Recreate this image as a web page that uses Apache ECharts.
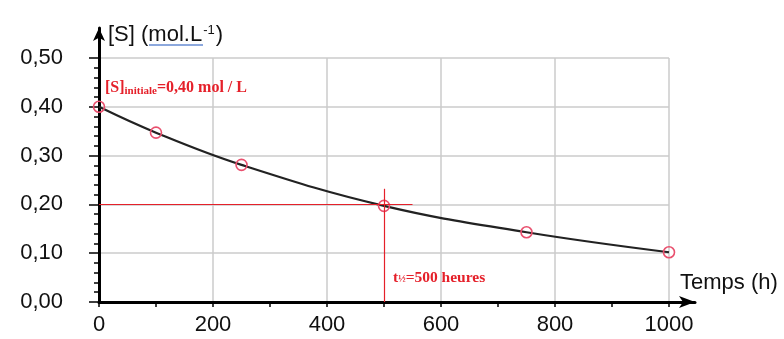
<!DOCTYPE html>
<html>
<head>
<meta charset="utf-8">
<script src="https://cdn.jsdelivr.net/npm/echarts@6/dist/echarts.min.js"></script>
<style>
  html, body { margin: 0; padding: 0; background: #ffffff; }
  #chart { width: 784px; height: 339px; }
</style>
</head>
<body>
<div id="chart"></div>
<script>
// Measured concentration of S over time
const timeHours = [0, 100, 250, 500, 750, 1000];
const concentration = [0.40, 0.347, 0.281, 0.197, 0.143, 0.102];

// Axis ticks and their labels
const xTicks = [0, 200, 400, 600, 800, 1000];
const xTickLabels = ['0', '200', '400', '600', '800', '1000'];
const yTicks = [0, 0.1, 0.2, 0.3, 0.4, 0.5];
const yTickLabels = ['0,00', '0,10', '0,20', '0,30', '0,40', '0,50'];

// Half-life construction
const halfLife = 500;          // h
const halfConc = 0.20;         // mol/L
const halfLineXEnd = 550;      // horizontal guide stops a little past t1/2
const halfLineYEnd = 0.232;    // vertical guide rises a little above [S]0/2

const SANS = '"Liberation Sans", Arial, sans-serif';
const SERIF = '"Liberation Serif", "Times New Roman", serif';
const RED = '#e5202a';

const chart = echarts.init(document.getElementById('chart'), null, { renderer: 'canvas' });

const gridLine = { show: true, lineStyle: { color: '#cbcbcb', width: 1.5 } };
const tickStyle = { color: '#000', width: 1.5 };

chart.setOption({
  animation: false,
  backgroundColor: '#ffffff',
  grid: [
    // data area
    { left: 99, right: 115, top: 58, bottom: 37, containLabel: false },
    // arrowed axes, slightly longer than the data area
    { left: 99, right: 89, top: 28, bottom: 37, containLabel: false }
  ],
  xAxis: [
    {
      type: 'value', gridIndex: 0,
      min: xTicks[0], max: xTicks[xTicks.length - 1], interval: 200,
      axisLine: { show: false },
      axisTick: { show: true, length: 5, lineStyle: tickStyle },
      minorTick: { show: true, splitNumber: 2, length: 5, lineStyle: tickStyle },
      splitLine: gridLine,
      axisLabel: {
        fontFamily: SANS, fontSize: 22, color: '#111', margin: 12,
        formatter: v => xTickLabels[xTicks.indexOf(v)] ?? ''
      }
    },
    {
      type: 'value', gridIndex: 1, min: 0, max: 1,
      axisLine: {
        show: true, onZero: false,
        symbol: ['none', 'arrow'], symbolSize: [9, 16],
        lineStyle: { color: '#000', width: 3 }
      },
      axisTick: { show: false }, axisLabel: { show: false }, splitLine: { show: false },
      name: 'Temps (h)', nameLocation: 'end', nameGap: -15,
      nameTextStyle: {
        fontFamily: SANS, fontSize: 22, color: '#111',
        align: 'left', verticalAlign: 'bottom', lineHeight: 22, padding: [0, 0, 8, 0]
      }
    }
  ],
  yAxis: [
    {
      type: 'value', gridIndex: 0,
      min: yTicks[0], max: yTicks[yTicks.length - 1], interval: 0.1,
      axisLine: { show: false },
      axisTick: { show: true, length: 10, lineStyle: tickStyle },
      minorTick: { show: true, splitNumber: 5, length: 5, lineStyle: tickStyle },
      splitLine: gridLine,
      axisLabel: {
        fontFamily: SANS, fontSize: 22, color: '#111', margin: 36,
        formatter: v => yTickLabels[Math.round(v * 10)] ?? ''
      }
    },
    {
      type: 'value', gridIndex: 1, min: 0, max: 1,
      axisLine: {
        show: true, onZero: false,
        symbol: ['none', 'arrow'], symbolSize: [9, 13],
        lineStyle: { color: '#000', width: 3 }
      },
      axisTick: { show: false }, axisLabel: { show: false }, splitLine: { show: false },
      name: '{n|[S] (}{u|mol.L}{sup|-1}{n|)}',
      nameLocation: 'end', nameGap: 4,
      nameTextStyle: {
        align: 'left', verticalAlign: 'top', padding: [0, 0, 0, 9],
        rich: {
          n: { fontFamily: SANS, fontSize: 22, color: '#111', lineHeight: 22 },
          u: { fontFamily: SANS, fontSize: 22, color: '#111', lineHeight: 22 },
          sup: { fontFamily: SANS, fontSize: 13, color: '#111', lineHeight: 22, padding: [0, 1, 10, 1] }
        }
      }
    }
  ],
  graphic: [
    {
      // spell-check style underline under the unit
      type: 'line', z: 10,
      shape: { x1: 149, y1: 45, x2: 203, y2: 45 },
      style: { stroke: '#8ca8dd', lineWidth: 2 }
    },
    {
      type: 'text', left: 105, top: 79, z: 10,
      style: {
        text: '{a|[S]}{s|initiale}{a|=0,40 mol / L}',
        rich: {
          a: { fontFamily: SERIF, fontWeight: 'bold', fontSize: 16, fill: RED, lineHeight: 18 },
          s: { fontFamily: SERIF, fontWeight: 'bold', fontSize: 11, fill: RED, lineHeight: 18, padding: [7, 0, 0, 0] }
        }
      }
    },
    {
      type: 'text', left: 393, top: 270, z: 10,
      style: {
        text: '{a|t}{h|½}{a|=500 heures}',
        rich: {
          a: { fontFamily: SERIF, fontWeight: 'bold', fontSize: 15.5, fill: RED, lineHeight: 17 },
          h: { fontFamily: SERIF, fontWeight: 'bold', fontSize: 10, fill: RED, lineHeight: 17, padding: [3, 0, 0, 0] }
        }
      }
    }
  ],
  series: [
    {
      name: '[S]',
      type: 'line',
      xAxisIndex: 0, yAxisIndex: 0,
      data: timeHours.map((t, i) => [t, concentration[i]]),
      smooth: 0.4,
      symbol: 'circle', symbolSize: 11,
      itemStyle: { color: 'rgba(255,255,255,0)', borderColor: '#e9506e', borderWidth: 1.6 },
      lineStyle: { color: '#222222', width: 2.2 },
      z: 3,
      markLine: {
        silent: true, symbol: 'none', animation: false,
        label: { show: false },
        lineStyle: { color: RED, width: 1.2, type: 'solid' },
        data: [
          [{ coord: [0, halfConc] }, { coord: [halfLineXEnd, halfConc] }],
          [{ coord: [halfLife, 0] }, { coord: [halfLife, halfLineYEnd] }]
        ]
      }
    }
  ]
});
</script>
</body>
</html>
